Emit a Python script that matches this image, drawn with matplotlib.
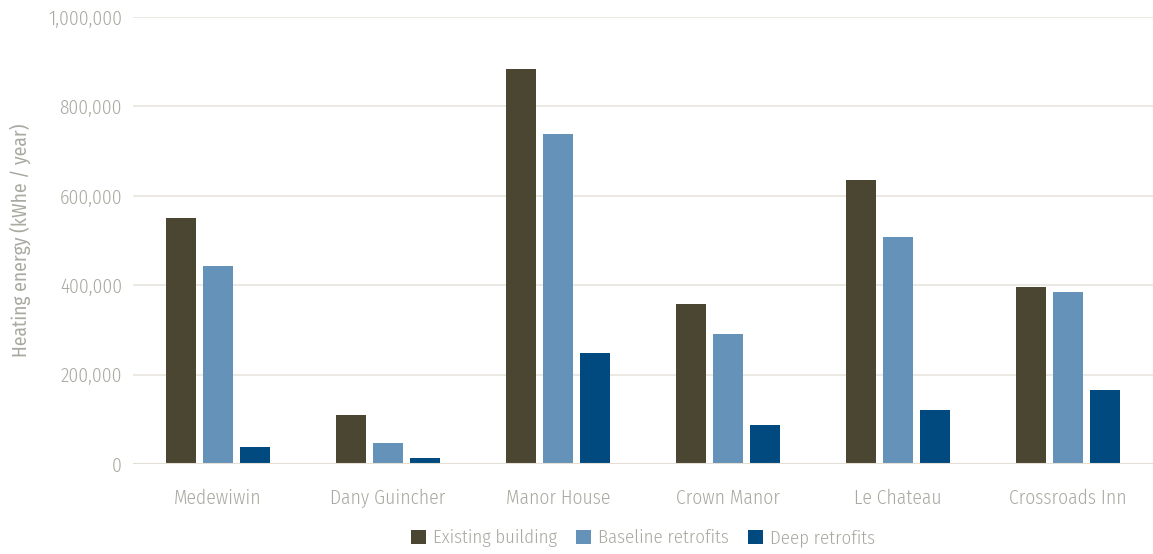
import matplotlib
matplotlib.use("Agg")
import matplotlib.pyplot as plt
import numpy as np
from matplotlib.ticker import FuncFormatter

categories = ["Medewiwin", "Dany Guincher", "Manor House", "Crown Manor", "Le Chateau", "Crossroads Inn"]
series_names = ["Existing building", "Baseline retrofits", "Deep retrofits"]
existing = [550000, 110000, 884000, 358000, 635000, 396000]
baseline = [443000, 47000, 738000, 291000, 508000, 385000]
deep = [38000, 13000, 248000, 87000, 121000, 166000]
colors = ["#4b4631", "#6592b8", "#004a80"]

plt.rcParams['font.family'] = ['Fira Sans Condensed', 'DejaVu Sans']
plt.rcParams['font.weight'] = 300
txt = "#a9a9a1"
fs = 14

fig = plt.figure(figsize=(11.53, 5.54), dpi=100)
ax = fig.add_axes([133/1153, 1-464/554, 1020/1153, (464-17)/554])

x = np.arange(len(categories))
w = 0.176
step = 0.22
for i, (vals, name) in enumerate(zip([existing, baseline, deep], series_names)):
    ax.bar(x + (i-1)*step, vals, width=w, color=colors[i], label=name, zorder=3)

ax.set_xlim(-0.5, len(categories)-0.5)
ax.set_ylim(0, 1000000)
ax.set_yticks(np.arange(0, 1000001, 200000))
ax.yaxis.set_major_formatter(FuncFormatter(lambda v, p: f"{int(v):,}"))
ax.set_xticks(x)
ax.set_xticklabels(categories)
ax.grid(axis='y', color="#e8e5dd", linewidth=1.2, zorder=0)
for s in ax.spines.values():
    s.set_visible(False)
ax.axhline(0, color="#e3dfd6", linewidth=1.5, zorder=4)
ax.tick_params(axis='both', length=0, labelsize=fs, colors=txt)
ax.tick_params(axis='x', pad=17.5)
ax.tick_params(axis='y', pad=8)
ax.set_ylabel("Heating energy (kWhe / year)", fontsize=fs, color=txt, labelpad=12)

leg = ax.legend(loc='center', bbox_to_anchor=(0.5, -0.166), ncol=3, frameon=False,
                fontsize=13.5, handlelength=0.8, handleheight=0.8, handletextpad=0.4, columnspacing=1.0)
for t in leg.get_texts():
    t.set_color(txt)

fig.savefig("out.png", dpi=100)
